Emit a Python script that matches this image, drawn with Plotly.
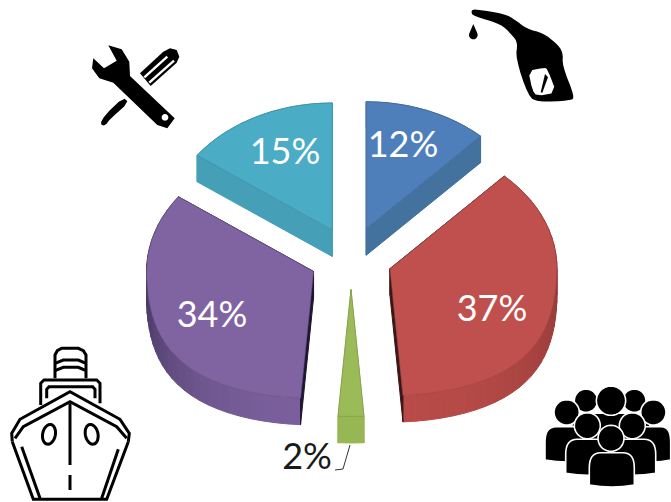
import math
import plotly.graph_objects as go

# ---- data ----
categories = ["Fuel", "Crew", "Other", "Ship", "Maintenance"]
shares = [12, 37, 2, 34, 15]
top_colors = ["#4F7FBB", "#C0504D", "#9BBB59", "#8064A2", "#4BACC6"]
wall_light = ["#44739F", "#B84B48", "#97B755", "#7A5F9C", "#459FB7"]
wall_dark = ["#44739F", "#963C3A", "#97B755", "#4B3A66", "#459FB7"]
radial_colors = ["#44729F", "#3A1616", "#97B755", "#1E1630", "#459FB7"]
label_x = [403, 492, 307, 212, 285]
label_y = [148, 312, 460, 318, 155]
label_colors = ["white", "white", "#1a1a1a", "white", "white"]

# ---- projection of the exploded disc, in pixels ----
CX, CY, RX, RY = 351, 258, 167, 127
EXPLODE_X, EXPLODE_Y, DEPTH = 41.4, 31.5, 26.5
FRONT_STRETCH = 0.24
W, H = 671, 502


def rim(theta, ax, ay):
    c = math.cos(theta)
    s = math.sin(theta)
    stretch = 1 + FRONT_STRETCH * (max(0, -c) ** 2)
    return ax + RX * s * stretch, ay - RY * c


def mix(a, b, t):
    pa = [int(a[i:i + 2], 16) for i in (1, 3, 5)]
    pb = [int(b[i:i + 2], 16) for i in (1, 3, 5)]
    return "#%02x%02x%02x" % tuple(round(x + (y - x) * t) for x, y in zip(pa, pb))


def poly(fig, pts, fill, line=None, lw=0):
    fig.add_trace(go.Scatter(
        x=[p[0] for p in pts] + [pts[0][0]],
        y=[p[1] for p in pts] + [pts[0][1]],
        mode="lines", fill="toself", fillcolor=fill,
        line=dict(color=line or fill, width=lw if line else 1),
        hoverinfo="skip", showlegend=False))


fig = go.Figure()
total = sum(shares)
start = 0.0
for i, v in enumerate(shares):
    a = start
    b = start + 2 * math.pi * v / total
    start = b
    mid = (a + b) / 2
    ax = CX + EXPLODE_X * math.sin(mid)
    ay = CY - EXPLODE_Y * math.cos(mid)
    # outer wall, in shaded bands
    n = max(2, int(v))
    for k in range(n):
        t0 = a + (b - a) * k / n
        t1 = a + (b - a) * (k + 1) / n
        sub = [t0 + (t1 - t0) * j / 4 for j in range(5)]
        upper = [rim(t, ax, ay) for t in sub]
        lower = [(x, y + DEPTH) for x, y in reversed(upper)]
        col = mix(wall_dark[i], wall_light[i], abs(math.cos((t0 + t1) / 2)) ** 1.5)
        poly(fig, upper + lower, col)
    # radial walls
    for th in (a, b):
        px, py = rim(th, ax, ay)
        poly(fig, [(ax, ay), (px, py), (px, py + DEPTH), (ax, ay + DEPTH)], radial_colors[i])
    # top face
    arc = [rim(a + (b - a) * j / 60, ax, ay) for j in range(61)]
    poly(fig, [(ax, ay)] + arc, top_colors[i], mix(top_colors[i], "#000000", 0.2), 0.6)

fig.add_trace(go.Scatter(
    x=label_x, y=label_y, mode="text",
    text=[f"{v}%" for v in shares],
    textfont=dict(family="Lato", size=36, color=label_colors),
    customdata=categories, hovertemplate="%{customdata}: %{text}<extra></extra>",
    showlegend=False))

shapes = []


def add_path(path, fill=None, line=None, lw=0):
    s = dict(type="path", path=path, xref="x", yref="y", layer="above",
             line=dict(color=line or "rgba(0,0,0,0)", width=lw))
    if fill:
        s["fillcolor"] = fill
    shapes.append(s)


def conv(ox, oy, pts):
    return [(ox + x / 3, oy + y / 3) for x, y in pts]


def pth(pts, close=True):
    return "M " + " L ".join(f"{x:.1f},{y:.1f}" for x, y in pts) + (" Z" if close else "")


def ell(cx, cy, rx, ry, tilt=0, n=36):
    out = []
    for j in range(n):
        t = 2 * math.pi * j / n
        x, y = rx * math.cos(t), ry * math.sin(t)
        out.append((cx + x * math.cos(tilt) - y * math.sin(tilt),
                    cy + x * math.sin(tilt) + y * math.cos(tilt)))
    return out


def smooth(pts, rounds=2):
    for _ in range(rounds):
        out = []
        for j, p in enumerate(pts):
            q = pts[(j + 1) % len(pts)]
            out.append((p[0] * 0.75 + q[0] * 0.25, p[1] * 0.75 + q[1] * 0.25))
            out.append((p[0] * 0.25 + q[0] * 0.75, p[1] * 0.25 + q[1] * 0.75))
        pts = out
    return pts


# leader of the small slice
add_path(pth([(350, 445), (343, 469), (335, 470)], False), None, "#333333", 1)

# ship
OX, OY = 0, 340
ship = [
    [(165, 115), (165, 45), (172, 32), (185, 25), (235, 25), (250, 32), (258, 45), (258, 115)],
    [(165, 70), (190, 60), (235, 60), (258, 70)],
    [(165, 92), (190, 82), (235, 82), (258, 92)],
    [(122, 195), (122, 130), (132, 120), (290, 120), (300, 130), (300, 190)],
    [(140, 175), (140, 148), (147, 140), (278, 140), (285, 148), (285, 175)],
    [(37, 305), (35, 280), (60, 238), (210, 155), (360, 238), (388, 280), (385, 305)],
    [(45, 295), (70, 260), (210, 185), (350, 260), (380, 295)],
    [(37, 305), (100, 478), (320, 478), (385, 305)],
    [(65, 320), (120, 475)],
    [(355, 328), (305, 475)],
    [(210, 190), (210, 375)],
    [(210, 405), (210, 450)],
]
for seg in ship:
    add_path(pth(conv(OX, OY, seg), False), None, "black", 3)
for cx_, tilt in ((147, 0.2), (275, -0.2)):
    add_path(pth(conv(OX, OY, ell(cx_, 283, 19, 30, tilt))), None, "black", 3)

# people
OX, OY = 535, 380


def person(hx, hy, r, x0=None, x1=None, ytop=None, ybot=None):
    if x0 is not None:
        p = conv(OX, OY, [(x0, ybot), (x0, ytop + 45), ((x0 + x1) / 2 - (x1 - x0) * 0.25, ytop),
                          ((x0 + x1) / 2 + (x1 - x0) * 0.25, ytop), (x1, ytop + 45), (x1, ybot),
                          ((x0 + x1) / 2, ybot + 12)])
        d = (f"M {p[0][0]:.1f},{p[0][1]:.1f} L {p[1][0]:.1f},{p[1][1]:.1f} "
             f"Q {p[1][0]:.1f},{p[2][1]:.1f} {p[2][0]:.1f},{p[2][1]:.1f} "
             f"L {p[3][0]:.1f},{p[3][1]:.1f} Q {p[4][0]:.1f},{p[3][1]:.1f} {p[4][0]:.1f},{p[4][1]:.1f} "
             f"L {p[5][0]:.1f},{p[5][1]:.1f} Q {p[6][0]:.1f},{p[6][1]:.1f} {p[0][0]:.1f},{p[0][1]:.1f} Z")
        add_path(d, "black", "white", 1.6)
    add_path(pth(conv(OX, OY, ell(hx, hy, r, r))), "black", "white", 1.6)


person(153, 62, 35, 110, 345, 100, 200)
person(298, 62, 35)
person(228, 62, 44)
person(95, 97, 38, 30, 165, 140, 240)
person(355, 97, 38, 295, 407, 140, 240)
person(157, 137, 39, 92, 230, 178, 280)
person(292, 137, 39, 225, 362, 178, 280)
person(228, 175, 39, 163, 298, 218, 315)

# fuel pump
OX, OY = 455, 0
pump = [(48, 36), (55, 26), (150, 42), (178, 58), (215, 86), (265, 100), (302, 128), (324, 155),
        (322, 198), (360, 292), (345, 302), (250, 306), (220, 290), (182, 175), (188, 128),
        (172, 106), (138, 72), (55, 48)]
add_path(pth(conv(OX, OY, smooth(pump, 2))), "black")
add_path(pth(conv(OX, OY, smooth([(220, 212), (268, 203), (278, 208), (304, 278), (245, 288),
                                  (232, 270)], 1))), "white")
add_path(pth(conv(OX, OY, [(270, 222), (257, 277), (262, 278), (279, 232)])), "black")
drop_arc = [(55 + 13 * math.cos(t), 105 + 13 * math.sin(t)) for t in [j * math.pi / 12 for j in range(-2, 15)]]
add_path(pth(conv(OX, OY, [(55, 72)] + drop_arc)), "black")

# tools
OX, OY = 80, 40
wrench = [(85, 16), (110, 62), (72, 85), (40, 55), (36, 85), (58, 115), (100, 128), (232, 255),
          (262, 265), (284, 235), (150, 108), (148, 65), (125, 28)]
add_path(pth(conv(OX, OY, wrench)), "black")
add_path(pth(conv(OX, OY, ell(255, 232, 10, 10))), "white")
add_path(pth(conv(OX, OY, [(180, 100), (250, 35), (270, 25), (290, 30), (298, 50), (290, 68), (212, 138)])), "black")
for seg in ([(193, 112), (262, 50)], [(208, 128), (282, 62)]):
    add_path(pth(conv(OX, OY, seg), False), None, "white", 2.4)
add_path(pth(conv(OX, OY, smooth([(130, 172), (146, 188), (92, 235), (75, 258), (60, 252), (75, 225)], 1))), "black")

fig.update_layout(
    width=W, height=H, autosize=False,
    margin=dict(l=0, r=0, t=0, b=0),
    paper_bgcolor="white", plot_bgcolor="white",
    xaxis=dict(range=[0, W], visible=False, fixedrange=True),
    yaxis=dict(range=[H, 0], visible=False, fixedrange=True),
    shapes=shapes, showlegend=False)
fig.write_html("out.html", config=dict(displayModeBar=False),
               post_script="document.body.style.margin='0';document.body.style.overflow='hidden';")
